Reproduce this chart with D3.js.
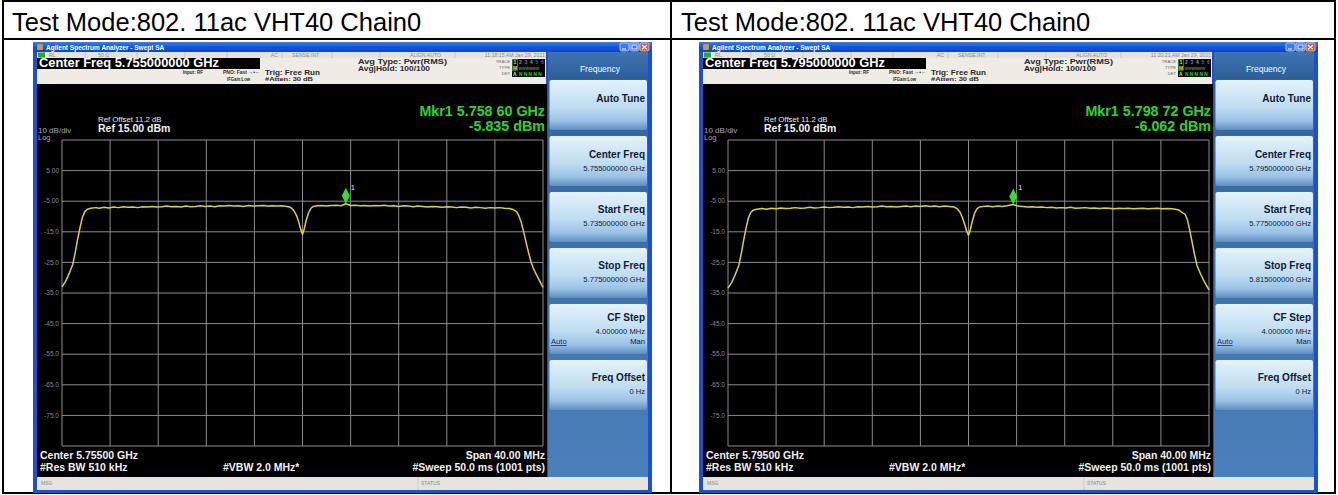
<!DOCTYPE html>
<html><head><meta charset="utf-8">
<script src="https://cdn.jsdelivr.net/npm/d3@7"></script>
<style>
html,body{margin:0;padding:0;background:#fff;}
svg{display:block;}
text{font-family:Arial,"Liberation Sans",sans-serif;}
</style></head><body>
<svg id="chart" width="1338" height="495"></svg>
<script>
// ---- data ----
const headerTitles = ["Test Mode:802. 11ac VHT40 Chain0", "Test Mode:802. 11ac VHT40 Chain0"];
const centerFreqsGHz = [5.755, 5.795];
const spanMHz = 40;
const refLevel = 15;
const dbPerDiv = 10;
const yDivisions = 10;
const xDivisions = 10;
const yTickLabels = ["5.00", "-5.00", "-15.0", "-25.0", "-35.0", "-45.0", "-55.0", "-65.0", "-75.0"];
const markerFreqsGHz = [5.75860, 5.79872];
const markerLevels = [-5.835, -6.062];
const markerFreqLabels = ["Mkr1 5.758 60 GHz", "Mkr1 5.798 72 GHz"];
const markerLevelLabels = ["-5.835 dBm", "-6.062 dBm"];
const centerFreqLabels = ["5.755000000 GHz", "5.795000000 GHz"];
const startFreqLabels = ["5.735000000 GHz", "5.775000000 GHz"];
const stopFreqLabels = ["5.775000000 GHz", "5.815000000 GHz"];
const bottomCenterLabels = ["Center 5.75500 GHz", "Center 5.79500 GHz"];
const timestamps = ["11:18:15 AM Jan 29, 2021", "11:20:21 AM Jan 29, 2021"];

// trace samples: offset from start frequency (MHz) and level (dBm)
const traceOffsetsA = [0.0,0.3,0.6,0.9,1.1,1.3,1.5,1.7,1.9,2.1,2.4,2.8,3.1,3.5,3.9,4.3,4.7,5.1,5.5,5.9,6.3,6.7,7.1,7.5,7.9,8.3,8.7,9.1,9.5,9.9,10.3,10.7,11.1,11.5,11.9,12.3,12.7,13.1,13.5,13.9,14.3,14.7,15.1,15.5,15.9,16.3,16.7,17.1,17.5,17.9,18.3,18.7,19.0,19.25,19.5,19.7,19.85,20.0,20.15,20.3,20.5,20.7,20.9,21.2,21.6,22.0,22.4,22.8,23.2,23.6,24.0,24.4,24.8,25.2,25.6,26.0,26.4,26.8,27.2,27.6,28.0,28.4,28.8,29.2,29.6,30.0,30.4,30.8,31.2,31.6,32.0,32.4,32.8,33.2,33.6,34.0,34.4,34.8,35.2,35.6,36.0,36.4,36.8,37.2,37.5,37.8,38.0,38.2,38.4,38.6,38.8,39.0,39.2,39.5,39.8,40.0];
const traceLevelsA = [-33.0,-31.2,-28.6,-25.6,-21.8,-17.4,-13.6,-10.2,-8.4,-7.6,-7.3,-7.1,-7.3,-7.0,-7.2,-6.9,-7.1,-6.8,-7.0,-6.9,-7.1,-6.8,-6.9,-6.7,-6.9,-6.8,-6.6,-6.8,-6.7,-6.9,-6.6,-6.8,-6.7,-6.5,-6.7,-6.6,-6.8,-6.5,-6.6,-6.4,-6.6,-6.5,-6.7,-6.4,-6.6,-6.5,-6.4,-6.6,-6.5,-6.6,-6.5,-6.7,-7.0,-7.9,-9.6,-12.0,-14.2,-15.9,-14.0,-11.4,-8.8,-7.3,-6.7,-6.5,-6.4,-6.6,-6.4,-6.3,-6.5,-5.84,-6.4,-6.3,-6.5,-6.4,-6.6,-6.4,-6.5,-6.3,-6.6,-6.5,-6.7,-6.5,-6.6,-6.8,-6.6,-6.7,-6.9,-6.7,-6.8,-7.0,-6.8,-6.9,-7.1,-6.9,-7.0,-7.2,-7.0,-7.1,-7.3,-7.1,-7.2,-7.1,-7.3,-7.4,-7.7,-8.4,-9.8,-12.0,-15.2,-18.6,-21.8,-24.8,-27.0,-29.4,-31.6,-33.2];

const traceOffsetsB = [0.0,0.3,0.6,0.9,1.1,1.3,1.5,1.7,1.9,2.1,2.4,2.8,3.2,3.6,4.0,4.4,4.8,5.2,5.6,6.0,6.4,6.8,7.2,7.6,8.0,8.4,8.8,9.2,9.6,10.0,10.4,10.8,11.2,11.6,12.0,12.4,12.8,13.2,13.6,14.0,14.4,14.8,15.2,15.6,16.0,16.4,16.8,17.2,17.6,18.0,18.4,18.8,19.05,19.3,19.5,19.7,19.85,20.0,20.15,20.3,20.5,20.7,20.9,21.2,21.6,22.0,22.4,22.8,23.2,23.72,24.1,24.5,24.9,25.3,25.7,26.1,26.5,26.9,27.3,27.7,28.1,28.5,28.9,29.3,29.7,30.1,30.5,30.9,31.3,31.7,32.1,32.5,32.9,33.3,33.7,34.1,34.5,34.9,35.3,35.7,36.1,36.5,36.9,37.2,37.5,37.8,38.0,38.2,38.4,38.6,38.8,39.0,39.3,39.6,40.0];
const traceLevelsB = [-33.4,-31.6,-29.0,-26.0,-22.2,-17.8,-13.8,-10.4,-8.6,-7.9,-7.6,-7.4,-7.6,-7.3,-7.5,-7.2,-7.4,-7.3,-7.1,-7.3,-7.2,-7.0,-7.2,-7.1,-6.9,-7.1,-7.0,-6.8,-7.0,-6.9,-7.1,-6.8,-6.9,-6.7,-6.9,-6.8,-6.6,-6.8,-6.7,-6.9,-6.7,-6.6,-6.8,-6.6,-6.7,-6.5,-6.7,-6.6,-6.8,-6.6,-6.7,-6.9,-7.4,-8.6,-10.4,-12.8,-14.8,-16.1,-14.4,-11.8,-9.0,-7.5,-6.9,-6.7,-6.6,-6.8,-6.6,-6.7,-6.5,-6.06,-6.6,-6.7,-6.9,-6.8,-7.0,-6.9,-7.1,-7.0,-7.2,-7.1,-7.2,-7.0,-7.3,-7.2,-7.1,-7.3,-7.2,-7.4,-7.2,-7.3,-7.5,-7.3,-7.4,-7.3,-7.5,-7.4,-7.3,-7.5,-7.4,-7.3,-7.5,-7.4,-7.5,-7.6,-7.9,-8.8,-9.2,-11.0,-14.5,-18.5,-22.5,-26.0,-28.8,-31.2,-34.0];

const traceOffsets = [traceOffsetsA, traceOffsetsB];
const traceLevels = [traceLevelsA, traceLevelsB];

// ---- drawing ----
const svg = d3.select("#chart");
const defs = svg.append("defs");

function grad(id, stops) {
  const g = defs.append("linearGradient").attr("id", id)
    .attr("x1", 0).attr("y1", 0).attr("x2", 0).attr("y2", 1);
  stops.forEach(([o, c]) => g.append("stop").attr("offset", o).attr("stop-color", c));
}
grad("titleBar", [[0, "#3b7cf0"], [0.5, "#1556dc"], [1, "#0a46c8"]]);
grad("softKey", [[0, "#e4f2fb"], [0.55, "#bedcf1"], [0.8, "#9cc4e6"], [1, "#5d8fc2"]]);
grad("softPanel", [[0, "#2f629c"], [1, "#4a80bb"]]);
grad("softHead", [[0, "#3f74b0"], [1, "#2c5f9a"]]);

// table frame
const frame = svg.append("g").attr("fill", "none").attr("stroke", "#000").attr("stroke-width", 2);
frame.append("rect").attr("x", 3).attr("y", 1).attr("width", 1332).attr("height", 492);
frame.append("line").attr("x1", 3).attr("x2", 1335).attr("y1", 39).attr("y2", 39);
frame.append("line").attr("x1", 671).attr("x2", 671).attr("y1", 1).attr("y2", 493);

svg.selectAll("text.header").data(headerTitles).join("text")
  .attr("class", "header")
  .attr("x", (d, i) => 12 + i * 669).attr("y", 31)
  .attr("font-size", 25.5).attr("fill", "#000").text(d => d);

// helper: text squeezed or stretched to a known width
function fitText(g, t, tx, ty, fs, w, opts = {}) {
  const el = g.append("text").attr("x", tx).attr("y", ty).attr("font-size", fs)
    .attr("font-weight", opts.weight || "bold").attr("fill", opts.fill || "#2a2a2a")
    .attr("text-anchor", opts.anchor || "start").text(t);
  if (w) el.attr("textLength", w).attr("lengthAdjust", "spacingAndGlyphs");
  return el;
}

function drawPanel(i) {
  const g = svg.append("g").attr("transform", `translate(${i * 666},0)`);
  const startGHz = centerFreqsGHz[i] - spanMHz / 2000;
  const stopGHz = centerFreqsGHz[i] + spanMHz / 2000;
  const x = d3.scaleLinear().domain([startGHz, stopGHz]).range([62, 543]);
  const y = d3.scaleLinear().domain([refLevel - dbPerDiv * yDivisions, refLevel]).range([446, 140]);

  // window frame and title bar
  g.append("rect").attr("x", 33).attr("y", 42).attr("width", 619).attr("height", 451).attr("fill", "#1c4fd2");
  g.append("rect").attr("x", 33).attr("y", 42).attr("width", 619).attr("height", 10).attr("fill", "url(#titleBar)");
  g.append("rect").attr("x", 37).attr("y", 44).attr("width", 6).attr("height", 6).attr("fill", "#c89a40").attr("rx", 1);
  g.append("text").attr("x", 46).attr("y", 50).attr("font-size", 6.5).attr("font-weight", "bold")
    .attr("fill", "#fff").text("Agilent Spectrum Analyzer - Swept SA");
  [[620, "#3d7ae8"], [630, "#3d7ae8"], [640, "#e0502a"]].forEach(([bx, c]) => {
    g.append("rect").attr("x", bx).attr("y", 43).attr("width", 9).attr("height", 8).attr("rx", 1.5)
      .attr("fill", c).attr("stroke", "#fff").attr("stroke-width", 0.6);
  });
  g.append("line").attr("x1", 622).attr("x2", 626).attr("y1", 49).attr("y2", 49).attr("stroke", "#fff").attr("stroke-width", 1);
  g.append("rect").attr("x", 632).attr("y", 45).attr("width", 5).attr("height", 4).attr("fill", "none").attr("stroke", "#fff").attr("stroke-width", 0.8);
  g.append("path").attr("d", "M642,45L647,49.3M647,45L642,49.3").attr("stroke", "#fff").attr("stroke-width", 1.2);

  // status row
  g.append("rect").attr("x", 37).attr("y", 52).attr("width", 509).attr("height", 6).attr("fill", "#e6e3dc");
  g.append("rect").attr("x", 38).attr("y", 52.5).attr("width", 7).attr("height", 5).attr("fill", "#28a828");
  const statusItems = [["RL", 49, "start"], ["50 Ω", 98, "start"], ["AC", 278, "end"], ["SENSE:INT", 292, "start"], ["ALIGN AUTO", 410, "start"], [timestamps[i], 545, "end"]];
  statusItems.forEach(([t, sx, anc]) => g.append("text").attr("x", sx).attr("y", 57.2).attr("font-size", 5.2)
    .attr("fill", "#8a8a8a").attr("text-anchor", anc).text(t));
  [85, 137, 185, 227, 282, 332, 380, 455].forEach(sx => g.append("line").attr("x1", sx).attr("x2", sx)
    .attr("y1", 52).attr("y2", 58).attr("stroke", "#b8b5ae").attr("stroke-width", 0.6));

  // control header
  g.append("rect").attr("x", 37).attr("y", 58).attr("width", 509).attr("height", 26).attr("fill", "#efece5");
  g.append("rect").attr("x", 37).attr("y", 58).attr("width", 223).attr("height", 11).attr("fill", "#000");
  fitText(g, "Center Freq  " + centerFreqLabels[i], 39, 67.3, 12, 180, {fill: "#fff"});
  fitText(g, "Input: RF", 183, 74, 6, 20);
  fitText(g, "PNO: Fast  \u2192\u2022\u2190", 223, 74, 6, 37);
  fitText(g, "IFGain:Low", 227, 80.5, 6, 23);
  fitText(g, "Trig: Free Run", 265, 74.5, 7.6, 55);
  fitText(g, "#Atten: 30 dB", 265, 81, 6.2, 48);
  fitText(g, "Avg Type: Pwr(RMS)", 358, 64, 7.6, 89);
  fitText(g, "Avg|Hold: 100/100", 358, 70.5, 6.4, 72);
  [["TRACE", 63], ["TYPE", 69], ["DET", 75]].forEach(([t, ty]) => g.append("text").attr("x", 510).attr("y", ty)
    .attr("font-size", 4.2).attr("fill", "#6a6a6a").attr("text-anchor", "end").text(t));
  g.append("rect").attr("x", 512).attr("y", 59).attr("width", 33).attr("height", 18).attr("fill", "#050505");
  g.append("rect").attr("x", 512.5).attr("y", 59.5).attr("width", 5).attr("height", 11).attr("fill", "none")
    .attr("stroke", "#3c3").attr("stroke-width", 0.6);
  ["1", "2", "3", "4", "5", "6"].forEach((t, k) => g.append("text").attr("x", 515 + k * 5.5).attr("y", 64.3)
    .attr("font-size", 5).attr("text-anchor", "middle").attr("font-weight", "bold")
    .attr("fill", ["#e8e840", "#3fa0ff", "#c040d0", "#40c080", "#3060ff", "#a040c0"][k]).text(t));
  g.append("text").attr("x", 513).attr("y", 69.8).attr("font-size", 4.8).attr("font-weight", "bold").attr("fill", "#e8e840").text("M");
  g.append("text").attr("x", 518.5).attr("y", 69.8).attr("font-size", 4.8).attr("fill", "#888").text("wwwwww");
  g.append("text").attr("x", 513).attr("y", 75.5).attr("font-size", 4.8).attr("font-weight", "bold").attr("fill", "#e8e840").text("A");
  g.append("text").attr("x", 519).attr("y", 75.5).attr("font-size", 4.8).attr("font-weight", "bold").attr("fill", "#2ad02a").text("N N N N N");

  // screen
  g.append("rect").attr("x", 37).attr("y", 84).attr("width", 510).attr("height", 393).attr("fill", "#000");
  g.append("text").attr("x", 98).attr("y", 122).attr("font-size", 7.8).attr("fill", "#e8e8e8").text("Ref Offset 11.2 dB");
  g.append("text").attr("x", 98).attr("y", 132).attr("font-size", 10.5).attr("font-weight", "bold").attr("fill", "#f2f2f2").text("Ref 15.00 dBm");
  g.append("text").attr("x", 38).attr("y", 133).attr("font-size", 8).attr("fill", "#a8a8a8").text("10 dB/div");
  g.append("text").attr("x", 38).attr("y", 139.5).attr("font-size", 7.5).attr("fill", "#a8a8a8").text("Log");
  g.append("text").attr("x", 545).attr("y", 116).attr("font-size", 14.3).attr("font-weight", "bold")
    .attr("fill", "#29d629").attr("text-anchor", "end").text(markerFreqLabels[i]);
  g.append("text").attr("x", 545).attr("y", 131).attr("font-size", 14.3).attr("font-weight", "bold")
    .attr("fill", "#29d629").attr("text-anchor", "end").text(markerLevelLabels[i]);

  // graticule
  const xTicks = d3.range(xDivisions + 1).map(k => startGHz + k * (stopGHz - startGHz) / xDivisions);
  const yTicks = d3.range(yDivisions + 1).map(k => refLevel - k * dbPerDiv);
  const grid = g.append("g").attr("stroke", "#8c8c8c").attr("stroke-width", 1);
  grid.selectAll("line.v").data(xTicks).join("line").attr("class", "v")
    .attr("x1", d => x(d)).attr("x2", d => x(d)).attr("y1", y.range()[1]).attr("y2", y.range()[0]);
  grid.selectAll("line.h").data(yTicks).join("line").attr("class", "h")
    .attr("y1", d => y(d)).attr("y2", d => y(d)).attr("x1", x.range()[0]).attr("x2", x.range()[1]);
  g.selectAll("text.ytick").data(yTickLabels).join("text").attr("class", "ytick")
    .attr("x", 59).attr("y", (d, k) => y(yTicks[k + 1])).attr("dy", "0.35em")
    .attr("text-anchor", "end").attr("font-size", 6.5).attr("fill", "#8a8a8a").text(d => d);

  // trace
  const pts = traceOffsets[i].map((o, k) => [startGHz + o / 1000, traceLevels[i][k]]);
  const line = d3.line().x(d => x(d[0])).y(d => y(d[1]));
  g.append("path").datum(pts).attr("d", line).attr("fill", "none")
    .attr("stroke", "#d6d23a").attr("stroke-width", 1.5).attr("stroke-linejoin", "round");

  // marker
  const mx = x(markerFreqsGHz[i]), my = y(markerLevels[i]);
  g.append("path").attr("d", `M${mx},${my - 16}L${mx + 4},${my - 8}L${mx},${my}L${mx - 4},${my - 8}Z`).attr("fill", "#2ee02e");
  g.append("text").attr("x", mx + 5).attr("y", my - 14).attr("font-size", 7.5).attr("fill", "#e8e8c0").text("1");

  // bottom annotations
  const bottom = [
    [bottomCenterLabels[i], 40, 459, "start"], ["#Res BW 510 kHz", 40, 471, "start"],
    ["#VBW 2.0 MHz*", 223, 471, "start"], ["Span 40.00 MHz", 545, 459, "end"],
    ["#Sweep  50.0 ms (1001 pts)", 545, 471, "end"]
  ];
  bottom.forEach(([t, tx, ty, anc]) => g.append("text").attr("x", tx).attr("y", ty).attr("font-size", 10.5)
    .attr("font-weight", "bold").attr("fill", "#f0f0f0").attr("text-anchor", anc).text(t));

  // message bar
  g.append("rect").attr("x", 37).attr("y", 477).attr("width", 611).attr("height", 13).attr("fill", "#e7e4dc");
  g.append("line").attr("x1", 418).attr("x2", 418).attr("y1", 477).attr("y2", 490).attr("stroke", "#c4c1b8").attr("stroke-width", 0.7);
  g.append("text").attr("x", 41).attr("y", 485).attr("font-size", 5).attr("fill", "#8a8a8a").text("MSG");
  g.append("text").attr("x", 421).attr("y", 485).attr("font-size", 5).attr("fill", "#8a8a8a").text("STATUS");

  // soft key panel
  g.append("rect").attr("x", 548).attr("y", 52).attr("width", 100).attr("height", 425).attr("fill", "url(#softPanel)");
  g.append("rect").attr("x", 548).attr("y", 52).attr("width", 100).attr("height", 27).attr("fill", "url(#softHead)");
  g.append("text").attr("x", 600).attr("y", 72).attr("font-size", 8.5).attr("text-anchor", "middle")
    .attr("fill", "#f4f8ff").text("Frequency");
  const keys = [
    {label: "Auto Tune", sub: [], ly: 22},
    {label: "Center Freq", sub: [centerFreqLabels[i]], ly: 22},
    {label: "Start Freq", sub: [startFreqLabels[i]], ly: 21},
    {label: "Stop Freq", sub: [stopFreqLabels[i]], ly: 21},
    {label: "CF Step", sub: ["4.000000 MHz", "Man"], ly: 17},
    {label: "Freq Offset", sub: ["0 Hz"], ly: 21}
  ];
  keys.forEach((k, j) => {
    const top = 80 + j * 56;
    g.append("rect").attr("x", 549.5).attr("y", top).attr("width", 97.5).attr("height", 50).attr("rx", 2)
      .attr("fill", "url(#softKey)");
    g.append("text").attr("x", 645).attr("y", top + k.ly).attr("font-size", 10).attr("font-weight", "bold")
      .attr("text-anchor", "end").attr("fill", "#0c1c34").text(k.label);
    k.sub.forEach((s, m) => g.append("text").attr("x", 645).attr("y", top + k.ly + 13 + m * 10)
      .attr("font-size", 7.6).attr("text-anchor", "end").attr("fill", "#0c1c34").text(s));
    if (k.label === "CF Step") {
      g.append("text").attr("x", 551).attr("y", top + k.ly + 23).attr("font-size", 7.6)
        .attr("fill", "#0a2a80").attr("text-decoration", "underline").text("Auto");
    }
  });
}

drawPanel(0);
drawPanel(1);
</script>
</body></html>
